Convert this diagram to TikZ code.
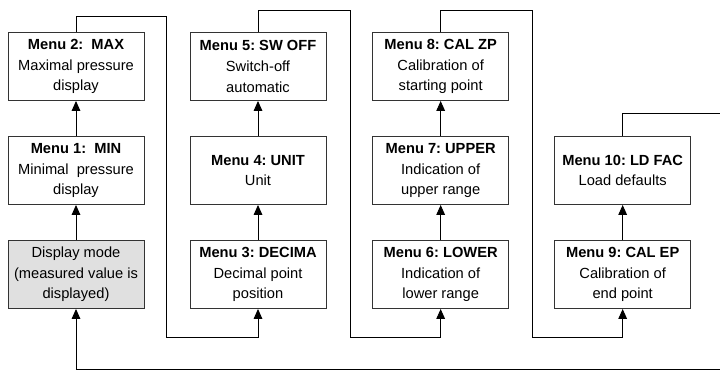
\documentclass[tikz,border=0pt]{standalone}
\usepackage{fontspec}
\setmainfont{Liberation Sans}
\frenchspacing
\usetikzlibrary{arrows.meta}
\definecolor{modegray}{RGB}{224,224,224}
\tikzstyle{menu} = [rectangle, minimum width=102pt, minimum height=51pt, align=center, draw=black!80, line width=0.7pt, font=\fontsize{11pt}{15.5pt}\selectfont]
\tikzstyle{mode} = [menu, fill=modegray]
\tikzstyle{arrow} = [line width=0.7pt, -{Triangle[width=6.5pt,length=7.5pt]}]
\tikzstyle{wire} = [line width=0.7pt]

\begin{document}
\begin{tikzpicture}[x=0.75pt, y=0.75pt, node distance=78pt]
\useasboundingbox (0,0) rectangle (720,374);

\node (disp) [mode] at (76,99.5) {Display mode\\(measured value is\\displayed)};
\node (m1) [menu, above of=disp] {\textbf{Menu 1:~ MIN}\\Minimal~ pressure\\display};
\node (m2) [menu, above of=m1] {\textbf{Menu 2:~ MAX}\\Maximal pressure\\display};

\node (m3) [menu, right of=disp, xshift=58.5pt] {\textbf{Menu 3: DECIMA}\\Decimal point\\position};
\node (m4) [menu, above of=m3] {\textbf{Menu 4: UNIT}\\Unit};
\node (m5) [menu, above of=m4] {\textbf{Menu 5: SW OFF}\\Switch-off\\automatic};

\node (m6) [menu, right of=m3, xshift=59pt] {\textbf{Menu 6: LOWER}\\Indication of\\lower range};
\node (m7) [menu, above of=m6] {\textbf{Menu 7: UPPER}\\Indication of\\upper range};
\node (m8) [menu, above of=m7] {\textbf{Menu 8: CAL ZP}\\Calibration of\\starting point};

\node (m9) [menu, right of=m6, xshift=58.5pt] {\textbf{Menu 9: CAL EP}\\Calibration of\\end point};
\node (m10) [menu, above of=m9] {\textbf{Menu 10: LD FAC}\\Load defaults};

\draw [arrow] (disp) -- (m1);
\draw [arrow] (m1) -- (m2);
\draw [arrow] (m3) -- (m4);
\draw [arrow] (m4) -- (m5);
\draw [arrow] (m6) -- (m7);
\draw [arrow] (m7) -- (m8);
\draw [arrow] (m9) -- (m10);

%%% wires from one column to the next
\coordinate (t1) at (166,358);
\coordinate (b1) at (166,37);
\coordinate (t2) at (350,364);
\coordinate (b2) at (350,37);
\coordinate (t3) at (532,364);
\coordinate (b3) at (532,37);
\coordinate (out) at (720,261);
\coordinate (back) at (720,5);

\draw [arrow] (m2.north) |- (t1) -- (b1) -| (m3.south);
\draw [arrow] (m5.north) |- (t2) -- (b2) -| (m6.south);
\draw [arrow] (m8.north) |- (t3) -- (b3) -| (m9.south);
\draw [wire] (m10.north) |- (out);
\draw [arrow] (back) -| (disp.south);

\end{tikzpicture}
\end{document}
